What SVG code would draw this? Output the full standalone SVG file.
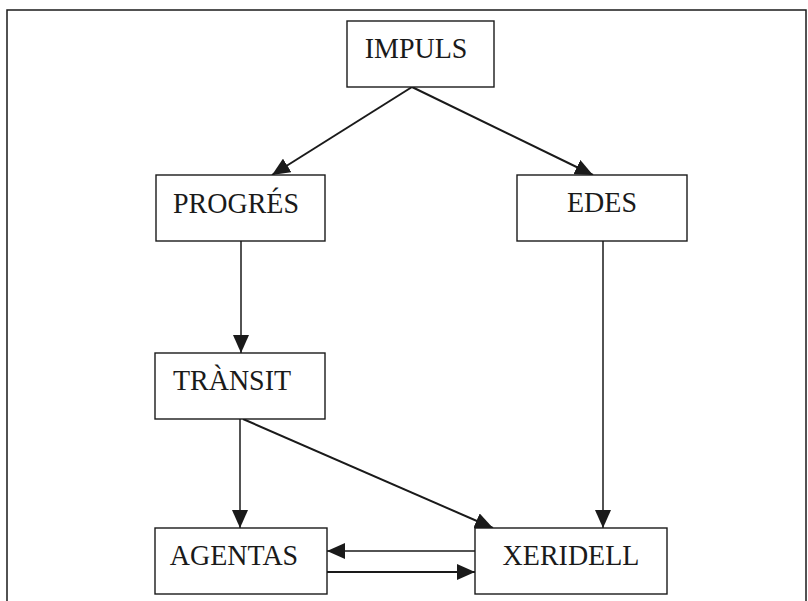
<svg xmlns="http://www.w3.org/2000/svg" width="808" height="601" viewBox="0 0 808 601">
  <style>
    .box { fill: #ffffff; stroke: #1a1a1a; stroke-width: 1.4; }
    .lbl { font-family: "Liberation Serif", "Times New Roman", serif; font-size: 28px; fill: #1a1a1a; text-anchor: middle; }
    .edge { stroke: #1a1a1a; stroke-width: 1.5; fill: none; }
    .diag { stroke-width: 2; }
    .frame { fill: none; stroke: #1a1a1a; stroke-width: 1.5; }
  </style>
  <defs>
    <marker id="arr" viewBox="0 0 18 16" refX="18" refY="8" markerWidth="18" markerHeight="16" markerUnits="userSpaceOnUse" orient="auto">
      <path d="M0,0 L18,8 L0,16 Z" fill="#1a1a1a"/>
    </marker>
  </defs>
  <rect class="frame" x="7" y="10" width="799" height="600"/>

  <g id="connectors">
    <line class="edge diag" x1="412" y1="87" x2="272" y2="175" marker-end="url(#arr)"/>
    <line class="edge diag" x1="412" y1="87" x2="593" y2="175" marker-end="url(#arr)"/>
    <line class="edge" x1="241" y1="241" x2="241" y2="353" marker-end="url(#arr)"/>
    <line class="edge" x1="603" y1="241" x2="603" y2="528" marker-end="url(#arr)"/>
    <line class="edge" x1="240" y1="419" x2="240" y2="528" marker-end="url(#arr)"/>
    <line class="edge diag" x1="243" y1="419" x2="493" y2="528" marker-end="url(#arr)"/>
    <line class="edge" x1="475" y1="551" x2="327" y2="551" marker-end="url(#arr)"/>
    <line class="edge diag" x1="327" y1="572" x2="475" y2="572" marker-end="url(#arr)"/>
  </g>

  <g id="impuls">
    <rect class="box" x="347" y="21" width="147" height="66"/>
    <text class="lbl" transform="translate(416 58) scale(1 1.08)">IMPULS</text>
  </g>
  <g id="progres">
    <rect class="box" x="156" y="175" width="169" height="66"/>
    <text class="lbl" transform="translate(236 213) scale(1 1.08)">PROGRÉS</text>
  </g>
  <g id="edes">
    <rect class="box" x="517" y="175" width="170" height="66"/>
    <text class="lbl" transform="translate(602 212) scale(1 1.08)">EDES</text>
  </g>
  <g id="transit">
    <rect class="box" x="155" y="353" width="170" height="66"/>
    <text class="lbl" transform="translate(232 390) scale(1 1.08)">TRÀNSIT</text>
  </g>
  <g id="agentas">
    <rect class="box" x="155" y="528" width="172" height="66"/>
    <text class="lbl" transform="translate(234 565) scale(1 1.08)">AGENTAS</text>
  </g>
  <g id="xeridell">
    <rect class="box" x="475" y="528" width="192" height="66"/>
    <text class="lbl" transform="translate(571 565) scale(1 1.08)">XERIDELL</text>
  </g>
</svg>
